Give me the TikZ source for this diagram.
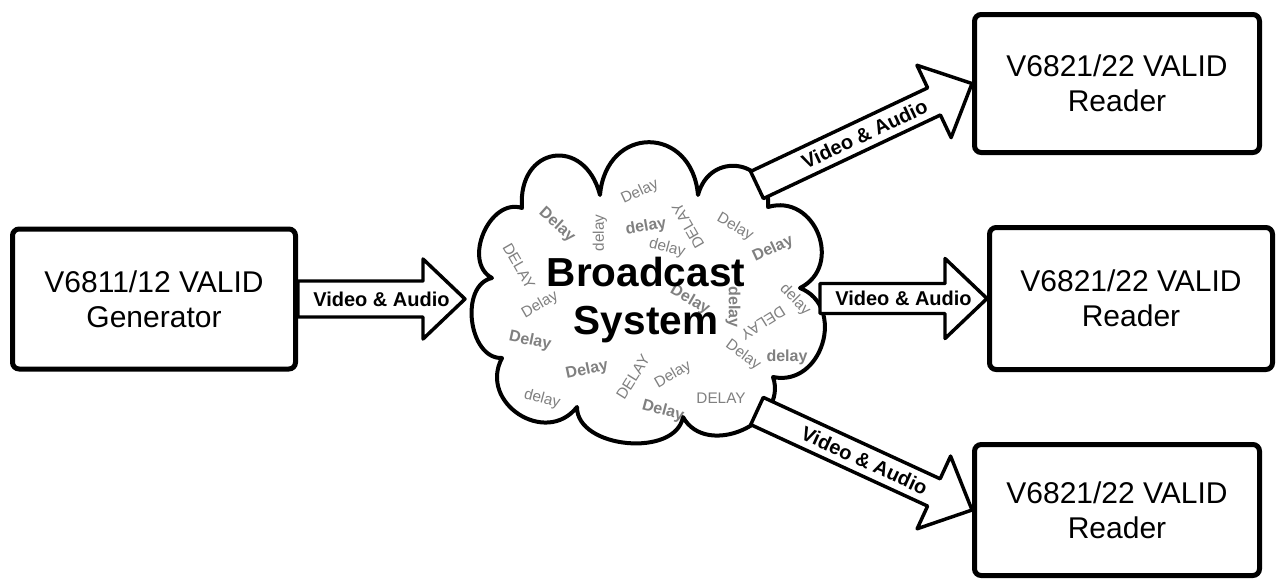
\documentclass[tikz,border=0pt]{standalone}
\usepackage{fontspec}
\setmainfont{Liberation Sans}
\usetikzlibrary{calc}
\definecolor{dgray}{RGB}{128,128,128}
\newcommand\blockarrow[4]{%
  \coordinate (hb) at ($(#2)!31.5pt!(#1)$);
  \draw[arrowline] ($(#1)!#3!90:(#2)$) -- ($(hb)!#3!90:(#2)$) -- ($(hb)!30pt!90:(#2)$) -- (#2)
     -- ($(hb)!30pt!-90:(#2)$) -- ($(hb)!#3!-90:(#2)$) -- ($(#1)!#3!-90:(#2)$) -- cycle;
  \path (#1) -- (#2) node[midway, sloped, vlabel] {#4};
}
\begin{document}
\begin{tikzpicture}[x=0.75pt,y=-0.75pt,
  box/.style={draw, line width=3.75pt, rounded corners=5pt, fill=white, align=center, inner sep=0pt,
    font=\fontsize{22.5}{26.25}\selectfont},
  arrowline/.style={draw, line width=2.6pt, line join=round, fill=white},
  vlabel/.style={font=\bfseries\fontsize{15}{18}\selectfont, text height=10.7pt, text depth=0pt, inner sep=0pt},
  dw/.style={text=dgray, inner sep=0pt, font=\fontsize{11.5}{13}\selectfont},
  dwb/.style={dw, font=\bfseries\fontsize{12}{14}\selectfont},
  cloudline/.style={draw, line width=3pt, fill=white, line join=round},
  lobe/.style={bend left=85, looseness=#1},
]
\useasboundingbox (0,0) rectangle (1280,583);

% boxes
\node[box, minimum width=212.25pt, minimum height=105pt] (gen) at (154,299) {V6811/12 VALID\\Generator};
\node[box, minimum width=213.75pt, minimum height=103.5pt] (r1) at (1117,83.5) {V6821/22 VALID\\Reader};
\node[box, minimum width=212.25pt, minimum height=106.5pt] (r2) at (1131,298.5) {V6821/22 VALID\\Reader};
\node[box, minimum width=213.75pt, minimum height=98.25pt] (r3) at (1117,510) {V6821/22 VALID\\Reader};

% cloud
\draw[cloudline] (600,195) to[lobe=1.85] (698,195) to[lobe=1.7] (768,207) to[lobe=1.45] (800,288)
  to[lobe=1.38] (773,377) to[lobe=1.25] (683,417) to[lobe=1.0] (577,407) to[lobe=1.45] (502,358)
  to[lobe=1.07] (492,278) to[lobe=1.15] (522,208) to[lobe=2.0] (600,195) -- cycle;

% delay words
\node[dw, rotate=25]   (w1)  at (640,192) {Delay};
\node[dwb, rotate=-42] (w2)  at (557,225) {Delay};
\node[dw, rotate=90]   (w3)  at (600,233) {delay};
\node[dwb, rotate=10]  (w4)  at (646,227) {delay};
\node[dw, rotate=120]  (w5)  at (688,226) {DELAY};
\node[dw, rotate=-15]  (w6)  at (667,248) {delay};
\node[dw, rotate=-30]  (w7)  at (735,227) {Delay};
\node[dwb, rotate=25]  (w8)  at (773,249) {Delay};
\node[dw, rotate=-60]  (w9)  at (519,266) {DELAY};
\node[dw, rotate=30]   (w10) at (540,305) {Delay};
\node[dwb, rotate=-12] (w11) at (530,341) {Delay};
\node[dwb, rotate=12]  (w12) at (587,370) {Delay};
\node[dw, rotate=-15]  (w13) at (542,399) {delay};
\node[dw, rotate=58]   (w14) at (633,377) {DELAY};
\node[dw, rotate=30]   (w15) at (673,375) {Delay};
\node[dw]              (w16) at (721,398) {DELAY};
\node[dwb, rotate=-15] (w17) at (663,411) {Delay};
\node[dwb, rotate=-30] (w18) at (690,300) {Delay};
\node[dwb, rotate=-90] (w19) at (733,307) {delay};
\node[dw, rotate=-36]  (w20) at (743,355) {Delay};
\node[dwb]             (w21) at (787,357) {delay};
\node[dw, rotate=-45]  (w22) at (795,300) {delay};
\node[dw, rotate=212]  (w23) at (763,323) {DELAY};

\node[align=center, inner sep=0pt, font=\bfseries\fontsize{30.4}{36}\selectfont] (bcast) at (646,300.5) {Broadcast\\System};

% arrows
\coordinate (cin) at (465,299);
\coordinate (t1) at (757,185);
\coordinate (t2) at (820,298.5);
\coordinate (t3) at (757,411);
\blockarrow{gen.east}{cin}{13.5pt}{Video \& Audio}
\blockarrow{t2}{r2.west}{11.25pt}{Video \& Audio}
\blockarrow{t1}{r1.west}{11.25pt}{Video \& Audio}
\blockarrow{t3}{r3.west}{11.25pt}{Video \& Audio}
\end{tikzpicture}
\end{document}
